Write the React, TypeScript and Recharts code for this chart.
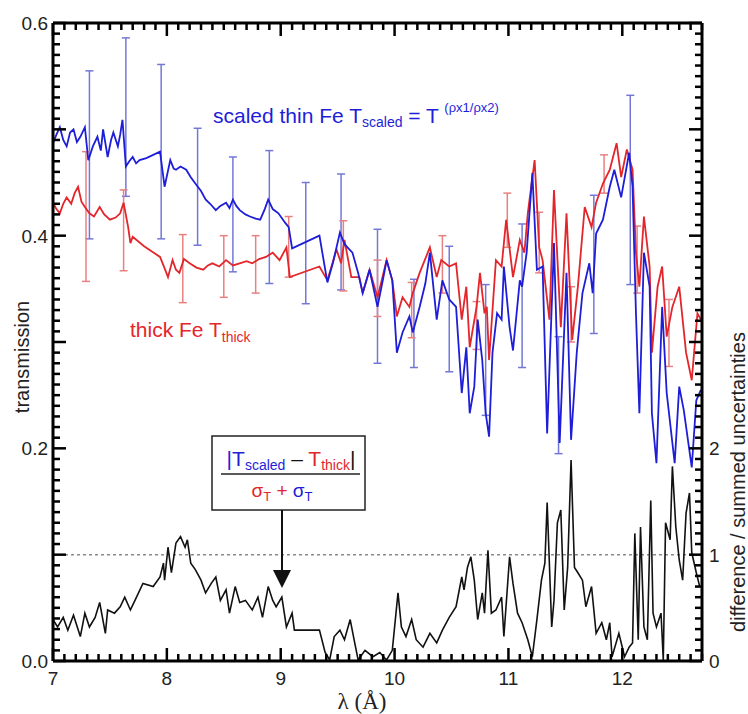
import React from "react";
import { ComposedChart, Line, XAxis, YAxis, ReferenceLine, ErrorBar } from "recharts";

// wavelength (Å) and transmission of the scaled thin Fe sample
const blueLambda = [
  7.0, 7.03, 7.06, 7.09, 7.12, 7.15, 7.18, 7.21, 7.24, 7.28, 7.31, 7.35, 7.39, 7.42, 7.44, 7.48, 7.51, 7.53, 7.57, 7.59,
  7.61, 7.64, 7.67, 7.7, 7.73, 7.76, 7.82, 7.94, 7.98, 8.03, 8.06, 8.08, 8.12, 8.17, 8.21, 8.25, 8.3, 8.34, 8.38, 8.43,
  8.47, 8.52, 8.55, 8.58, 8.61, 8.64, 8.69, 8.73, 8.78, 8.82, 8.86, 8.89, 8.93, 8.98, 9.04, 9.07, 9.1, 9.34, 9.41, 9.46,
  9.52, 9.56, 9.63, 9.68, 9.72, 9.78, 9.85, 9.9, 9.93, 9.98, 10.02, 10.07, 10.13, 10.16, 10.22, 10.27, 10.31, 10.37,
  10.42, 10.48, 10.54, 10.59, 10.63, 10.66, 10.7, 10.73, 10.77, 10.8, 10.83, 10.86, 10.9, 10.94, 10.96, 11.01, 11.04,
  11.1, 11.12, 11.16, 11.21, 11.25, 11.3, 11.34, 11.4, 11.45, 11.51, 11.55, 11.6, 11.65, 11.71, 11.74, 11.77, 11.83,
  11.89, 11.93, 11.99, 12.06, 12.09, 12.12, 12.15, 12.19, 12.24, 12.26, 12.3, 12.35, 12.39, 12.46, 12.5, 12.54, 12.61,
  12.65, 12.69,
];
const blueT = [
  0.487, 0.495, 0.502, 0.49, 0.484, 0.497, 0.5, 0.488, 0.493, 0.502, 0.471, 0.484, 0.493, 0.48, 0.5, 0.474, 0.49, 0.497,
  0.484, 0.495, 0.509, 0.465, 0.47, 0.474, 0.468, 0.471, 0.473, 0.479, 0.446, 0.471, 0.463, 0.462, 0.465, 0.462, 0.455,
  0.449, 0.442, 0.434, 0.43, 0.424, 0.428, 0.431, 0.426, 0.434, 0.428, 0.424, 0.42, 0.418, 0.416, 0.415, 0.425, 0.434,
  0.425, 0.421, 0.412, 0.408, 0.388, 0.4, 0.356, 0.375, 0.403, 0.392, 0.384, 0.365, 0.346, 0.368, 0.333, 0.36, 0.377,
  0.358, 0.29, 0.309, 0.324, 0.309, 0.333, 0.355, 0.384, 0.321, 0.358, 0.34, 0.333, 0.252, 0.295, 0.233, 0.258, 0.321,
  0.283, 0.233, 0.211, 0.29, 0.327, 0.321, 0.371, 0.314, 0.292, 0.358, 0.352, 0.384, 0.459, 0.368, 0.371, 0.214, 0.393,
  0.205, 0.365, 0.208, 0.29, 0.346, 0.374, 0.346, 0.402, 0.415, 0.446, 0.462, 0.436, 0.478, 0.446, 0.327, 0.233, 0.384,
  0.352, 0.233, 0.186, 0.333, 0.252, 0.186, 0.258, 0.236, 0.182, 0.245, 0.255,
];

// thick Fe sample
const redLambda = [
  7.0, 7.03, 7.06, 7.09, 7.12, 7.16, 7.19, 7.22, 7.25, 7.28, 7.32, 7.36, 7.41, 7.45, 7.5, 7.55, 7.59, 7.62, 7.66, 7.68,
  7.7, 7.8, 7.94, 7.97, 8.01, 8.05, 8.08, 8.11, 8.15, 8.2, 8.26, 8.32, 8.36, 8.4, 8.46, 8.52, 8.58, 8.64, 8.7, 8.75,
  8.81, 8.87, 8.93, 8.99, 9.05, 9.08, 9.34, 9.41, 9.49, 9.53, 9.56, 9.62, 9.69, 9.72, 9.78, 9.85, 9.93, 9.98, 10.02,
  10.07, 10.13, 10.16, 10.22, 10.31, 10.37, 10.41, 10.48, 10.54, 10.59, 10.63, 10.66, 10.72, 10.75, 10.79, 10.81, 10.83,
  10.89, 10.94, 10.98, 11.04, 11.1, 11.14, 11.17, 11.23, 11.27, 11.3, 11.36, 11.4, 11.46, 11.51, 11.56, 11.61, 11.67,
  11.73, 11.77, 11.83, 11.89, 11.95, 11.99, 12.04, 12.09, 12.12, 12.15, 12.19, 12.24, 12.26, 12.31, 12.35, 12.39, 12.44,
  12.5, 12.56, 12.61, 12.66, 12.69,
];
const redT = [
  0.431, 0.425, 0.421, 0.43, 0.436, 0.43, 0.44, 0.446, 0.432, 0.427, 0.421, 0.418, 0.427, 0.42, 0.415, 0.417, 0.421,
  0.431, 0.408, 0.393, 0.399, 0.39, 0.38, 0.372, 0.361, 0.377, 0.368, 0.365, 0.378, 0.374, 0.37, 0.368, 0.372, 0.374,
  0.371, 0.377, 0.372, 0.374, 0.376, 0.374, 0.378, 0.38, 0.384, 0.377, 0.389, 0.361, 0.371, 0.358, 0.387, 0.374, 0.396,
  0.361, 0.361, 0.346, 0.368, 0.342, 0.377, 0.358, 0.324, 0.342, 0.333, 0.346, 0.365, 0.389, 0.361, 0.377, 0.371, 0.374,
  0.321, 0.352, 0.295, 0.333, 0.365, 0.327, 0.333, 0.283, 0.377, 0.371, 0.415, 0.361, 0.396, 0.384, 0.421, 0.471, 0.389,
  0.377, 0.321, 0.443, 0.314, 0.421, 0.302, 0.352, 0.427, 0.408, 0.431, 0.449, 0.462, 0.487, 0.455, 0.481, 0.462, 0.384,
  0.352, 0.418, 0.371, 0.29, 0.352, 0.371, 0.305, 0.333, 0.352, 0.29, 0.264, 0.327, 0.321,
];

// |Tscaled - Tthick| / summed uncertainties (right axis)
const diffLambda = [
  7.0, 7.04, 7.09, 7.13, 7.18, 7.24, 7.28, 7.32, 7.37, 7.41, 7.46, 7.48, 7.54, 7.59, 7.63, 7.68, 7.72, 7.79, 7.88, 7.94,
  7.97, 7.98, 8.01, 8.04, 8.08, 8.12, 8.16, 8.18, 8.21, 8.25, 8.3, 8.34, 8.39, 8.43, 8.47, 8.52, 8.55, 8.6, 8.64, 8.69,
  8.75, 8.8, 8.84, 8.89, 8.93, 8.96, 9.01, 9.05, 9.1, 9.12, 9.34, 9.39, 9.43, 9.47, 9.52, 9.56, 9.61, 9.65, 9.68, 9.74,
  9.81, 9.87, 9.93, 9.98, 10.03, 10.06, 10.1, 10.15, 10.19, 10.25, 10.31, 10.37, 10.42, 10.48, 10.54, 10.59, 10.61,
  10.64, 10.67, 10.7, 10.73, 10.77, 10.79, 10.82, 10.85, 10.89, 10.94, 10.96, 11.01, 11.04, 11.08, 11.12, 11.17, 11.21,
  11.25, 11.29, 11.32, 11.34, 11.38, 11.4, 11.43, 11.46, 11.49, 11.52, 11.55, 11.58, 11.61, 11.65, 11.68, 11.73, 11.77,
  11.82, 11.86, 11.89, 11.91, 11.97, 12.02, 12.06, 12.09, 12.11, 12.14, 12.16, 12.19, 12.22, 12.25, 12.27, 12.3, 12.34,
  12.36, 12.38, 12.42, 12.44, 12.47, 12.5, 12.53, 12.56, 12.59, 12.61, 12.65, 12.68,
];
const diffRatio = [
  0.39, 0.32, 0.41, 0.29, 0.43, 0.23, 0.45, 0.32, 0.41, 0.55, 0.26, 0.48, 0.45, 0.51, 0.6, 0.48, 0.57, 0.73, 0.7, 0.79,
  0.92, 0.76, 1.07, 0.83, 1.11, 1.17, 1.07, 1.14, 0.92, 0.86, 0.76, 0.64, 0.73, 0.79, 0.57, 0.67, 0.45, 0.7, 0.55, 0.57,
  0.48, 0.6, 0.41, 0.7, 0.57, 0.51, 0.6, 0.32, 0.45, 0.29, 0.29, 0.08, 0.01, 0.23, 0.29, 0.2, 0.39, 0.17, 0.01, 0.1,
  0.04, 0.08, 0.01, 0.1, 0.64, 0.32, 0.23, 0.39, 0.2, 0.13, 0.26, 0.17, 0.29, 0.41, 0.51, 0.79, 0.67, 0.88, 0.98, 0.76,
  0.39, 0.64, 0.45, 1.04, 0.45, 0.48, 0.6, 0.23, 0.98, 0.73, 0.45, 0.36, 0.2, 0.04, 0.39, 0.76, 0.92, 1.49, 0.32, 0.57,
  1.3, 1.42, 0.48, 0.88, 1.89, 0.88, 0.83, 0.76, 0.51, 0.7, 0.26, 0.36, 0.2, 0.36, 0.04, 0.26, 0.04, 0.13, 0.17, 1.2,
  0.2, 1.26, 0.32, 0.2, 1.51, 0.45, 0.32, 0.45, 0.01, 1.3, 1.14, 1.83, 1.26, 0.95, 0.76, 1.39, 1.58, 1.02, 0.83, 0.7,
];

// error bars: position, lower and upper end
const blueErrLambda = [7.32, 7.64, 7.95, 8.27, 8.58, 8.9, 9.22, 9.53, 9.85, 10.17, 10.48, 10.8, 11.12, 11.44, 11.75, 12.07];
const blueErrLow = [0.397, 0.437, 0.397, 0.391, 0.366, 0.355, 0.336, 0.349, 0.28, 0.276, 0.272, 0.231, 0.276, 0.195, 0.308, 0.354];
const blueErrHigh = [0.555, 0.586, 0.561, 0.501, 0.474, 0.48, 0.45, 0.458, 0.406, 0.359, 0.39, 0.354, 0.411, 0.305, 0.438, 0.532];

const redErrLambda = [7.29, 7.62, 8.14, 8.5, 8.78, 9.07, 9.55, 9.85, 10.15, 10.42, 10.72, 10.99, 11.27, 11.55, 11.84, 12.13, 12.41];
const redErrLow = [0.357, 0.367, 0.337, 0.342, 0.346, 0.361, 0.348, 0.324, 0.304, 0.346, 0.293, 0.389, 0.365, 0.3, 0.44, 0.346, 0.277];
const redErrHigh = [0.479, 0.443, 0.401, 0.4, 0.4, 0.418, 0.414, 0.377, 0.356, 0.4, 0.338, 0.44, 0.422, 0.352, 0.476, 0.409, 0.34];

const xLabels = [7, 8, 9, 10, 11, 12];
const leftLabelTicks = [0, 0.2, 0.4, 0.6];
const leftLabels = ["0.0", "0.2", "0.4", "0.6"];
const rightLabelTicks = [0, 1, 2];

const X_MIN = 7;
const X_MAX = 12.7;
const Y_MAX = 0.6;

// plot box in page pixels (matches the chart margins below)
const PLOT = { left: 53, right: 702, top: 23, bottom: 661 };

const xTicks = Array.from({ length: 58 }, (_, i) => (70 + i) / 10);
const leftTicks = Array.from({ length: 61 }, (_, i) => i / 100);

const blueData = blueLambda.map((x, i) => ({ x, t: blueT[i] }));
const redData = redLambda.map((x, i) => ({ x, t: redT[i] }));
const diffData = diffLambda.map((x, i) => ({ x, r: diffRatio[i] }));
const blueErr = blueErrLambda.map((x, i) => ({
  x,
  t: (blueErrLow[i] + blueErrHigh[i]) / 2,
  err: (blueErrHigh[i] - blueErrLow[i]) / 2,
}));
const redErr = redErrLambda.map((x, i) => ({
  x,
  t: (redErrLow[i] + redErrHigh[i]) / 2,
  err: (redErrHigh[i] - redErrLow[i]) / 2,
}));

const SANS = "'Liberation Sans', Arial, Helvetica, sans-serif";
const BLUE = "#1e1ed8";
const RED = "#e3262b";

const onStep = (v: number, step: number) => Math.abs(v / step - Math.round(v / step)) < 1e-6;
const px = (v: number) => PLOT.left + ((v - X_MIN) / (X_MAX - X_MIN)) * (PLOT.right - PLOT.left);
const py = (v: number) => PLOT.bottom - (v / Y_MAX) * (PLOT.bottom - PLOT.top);

const BottomLabel = (props: any) => (
  <text x={Number(props.x)} y={Number(props.y) + 24} textAnchor="middle" fontSize={19} fontFamily={SANS} fill="#222">
    {Math.round(props.payload.value)}
  </text>
);

const LeftLabel = (props: any) => {
  const idx = leftLabelTicks.findIndex((t) => Math.abs(t - props.payload.value) < 1e-6);
  return (
    <text x={Number(props.x) - 5} y={Number(props.y) + 7} textAnchor="end" fontSize={19} fontFamily={SANS} fill="#222">
      {idx >= 0 ? leftLabels[idx] : ""}
    </text>
  );
};

const RightLabel = (props: any) => (
  <text x={Number(props.x) + 7} y={Number(props.y) + 7} textAnchor="start" fontSize={19} fontFamily={SANS} fill="#222">
    {props.payload.value}
  </text>
);

// inward tick marks on all four sides of the frame
function FrameTicks() {
  return (
    <g fill="#000">
      {xTicks.map((v) => {
        const len = onStep(v, 1) ? 13 : 7;
        const x = px(v);
        return (
          <g key={`x${v}`}>
            <rect x={x - 1.25} y={PLOT.bottom - len} width={2.5} height={len} />
            <rect x={x - 1.25} y={PLOT.top} width={2.5} height={len} />
          </g>
        );
      })}
      {leftTicks.map((v) => {
        const len = onStep(v, 0.1) ? 13 : 7;
        const y = py(v);
        return (
          <g key={`y${v}`}>
            <rect x={PLOT.left} y={y - 1.25} width={len} height={2.5} />
            <rect x={PLOT.right - len} y={y - 1.25} width={len} height={2.5} />
          </g>
        );
      })}
    </g>
  );
}

const frame = { stroke: "#000", strokeWidth: 3 };

export default function App() {
  return (
    <div style={{ position: "absolute", left: 0, top: 0, width: 748, height: 714, background: "#fff" }}>
      <ComposedChart width={748} height={714} margin={{ top: 23, right: 45, bottom: 52, left: 52 }}>
        <XAxis
          xAxisId="b"
          type="number"
          dataKey="x"
          domain={[X_MIN, X_MAX]}
          ticks={xLabels}
          interval={0}
          height={1}
          tickSize={0}
          tickMargin={0}
          tickLine={false}
          tick={BottomLabel}
          axisLine={frame}
        />
        <YAxis
          yAxisId="l"
          type="number"
          domain={[0, Y_MAX]}
          ticks={leftLabelTicks}
          interval={0}
          width={1}
          tickSize={0}
          tickMargin={0}
          tickLine={false}
          tick={LeftLabel}
          axisLine={frame}
        />
        <YAxis
          yAxisId="r"
          orientation="right"
          type="number"
          domain={[0, 6]}
          ticks={rightLabelTicks}
          interval={0}
          width={1}
          tickSize={0}
          tickMargin={0}
          tickLine={false}
          tick={RightLabel}
          axisLine={frame}
        />
        <ReferenceLine xAxisId="b" yAxisId="l" y={Y_MAX} stroke="#000" strokeWidth={3} />
        <ReferenceLine xAxisId="b" yAxisId="l" y={0.1} stroke="#8a8a8a" strokeWidth={1.5} strokeDasharray="3 3" />
        <Line data={blueErr} xAxisId="b" yAxisId="l" dataKey="t" stroke="none" dot={false} isAnimationActive={false}>
          <ErrorBar dataKey="err" direction="y" width={4} stroke="#7378d8" strokeWidth={1.5} isAnimationActive={false} />
        </Line>
        <Line data={redErr} xAxisId="b" yAxisId="l" dataKey="t" stroke="none" dot={false} isAnimationActive={false}>
          <ErrorBar dataKey="err" direction="y" width={4} stroke="#e98080" strokeWidth={1.5} isAnimationActive={false} />
        </Line>
        <Line data={redData} xAxisId="b" yAxisId="l" dataKey="t" type="linear" stroke={RED} strokeWidth={1.8} dot={false} isAnimationActive={false} />
        <Line data={blueData} xAxisId="b" yAxisId="l" dataKey="t" type="linear" stroke={BLUE} strokeWidth={1.8} dot={false} isAnimationActive={false} />
        <Line data={diffData} xAxisId="b" yAxisId="r" dataKey="r" type="linear" stroke="#111" strokeWidth={1.6} dot={false} isAnimationActive={false} />
      </ComposedChart>

      <svg width={748} height={714} style={{ position: "absolute", left: 0, top: 0, pointerEvents: "none" }} fontFamily={SANS}>
        <FrameTicks />

        <text x={213} y={123} fontSize={21} fill={BLUE}>
          scaled thin Fe T<tspan fontSize={14} dy={4}>scaled</tspan>
          <tspan dy={-4}> = T </tspan>
          <tspan fontSize={13} dy={-11}>(ρx1/ρx2)</tspan>
        </text>
        <text x={130} y={337} fontSize={21} fill={RED}>
          thick Fe T<tspan fontSize={14} dy={5}>thick</tspan>
        </text>

        <rect x={212} y={436} width={153} height={74} fill="#fff" stroke="#222" strokeWidth={1.5} />
        <line x1={221} x2={360} y1={474} y2={474} stroke="#222" strokeWidth={1.5} />
        <text x={291} y={466} textAnchor="middle" fontSize={21}>
          <tspan fill={BLUE}>|T</tspan>
          <tspan fill={BLUE} fontSize={14} dy={4}>scaled</tspan>
          <tspan fill="#111" dy={-4}> – </tspan>
          <tspan fill={RED}>T</tspan>
          <tspan fill={RED} fontSize={14} dy={4}>thick</tspan>
          <tspan fill="#111" dy={-4}>|</tspan>
        </text>
        <text x={282} y={497} textAnchor="middle" fontSize={19}>
          <tspan fill={RED}>σ</tspan>
          <tspan fill={RED} fontSize={13} dy={4}>T</tspan>
          <tspan fill={RED} dy={-4}> + </tspan>
          <tspan fill={BLUE}>σ</tspan>
          <tspan fill={BLUE} fontSize={13} dy={4}>T</tspan>
        </text>
        <line x1={282} x2={282} y1={510} y2={576} stroke="#111" strokeWidth={2} />
        <polygon points="273,570 291,570 282,588" fill="#111" />

        <text x={22} y={357} transform="rotate(-90 22 357)" textAnchor="middle" dominantBaseline="central" fontSize={20} fill="#222">
          transmission
        </text>
        <text x={738} y={482} transform="rotate(-90 738 482)" textAnchor="middle" dominantBaseline="central" fontSize={20} fill="#222">
          difference / summed uncertainties
        </text>
        <text x={362} y={709} textAnchor="middle" fontSize={23} fontFamily="'Liberation Serif', 'Times New Roman', serif" fill="#222">
          λ (Å)
        </text>
      </svg>
    </div>
  );
}
